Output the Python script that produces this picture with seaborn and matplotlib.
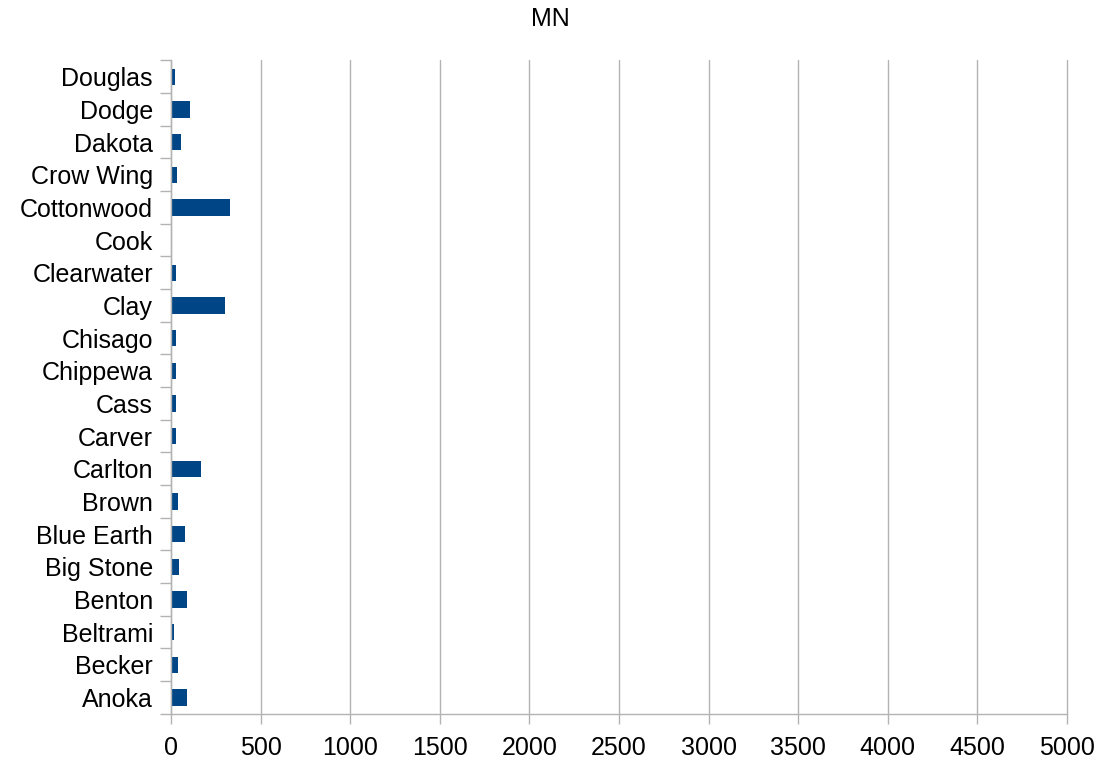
import numpy as np
import pandas as pd
import matplotlib
matplotlib.use("Agg")
import matplotlib.pyplot as plt
import seaborn as sns

# Datos (de arriba hacia abajo, como en la figura)
counties = ["Douglas", "Dodge", "Dakota", "Crow Wing", "Cottonwood", "Cook",
            "Clearwater", "Clay", "Chisago", "Chippewa", "Cass", "Carver",
            "Carlton", "Brown", "Blue Earth", "Big Stone", "Benton",
            "Beltrami", "Becker", "Anoka"]
values = [22, 106, 56, 33, 329, 0,
          28, 301, 28, 28, 28, 28,
          167, 39, 78, 45, 89,
          17, 39, 89]
x_ticks = [0, 500, 1000, 1500, 2000, 2500, 3000, 3500, 4000, 4500, 5000]

df = pd.DataFrame({"county": counties, "value": values})

sns.set_style("white")
plt.rcParams["font.family"] = ["Liberation Sans", "DejaVu Sans"]
plt.rcParams["text.color"] = "black"

fig, ax = plt.subplots(figsize=(11, 7.65), dpi=100)
fig.subplots_adjust(left=0.1555, right=0.97, top=0.921, bottom=0.067)

sns.barplot(data=df, x="value", y="county", order=counties, orient="h",
            color="#004586", width=0.5, saturation=1, linewidth=0, ax=ax)

ax.set_xlim(0, 5000)
ax.set_ylim(len(counties) - 0.5, -0.5)
ax.set_xticks(x_ticks)
ax.set_xticklabels([str(t) for t in x_ticks])
ax.xaxis.grid(True, color="#b3b3b3", linewidth=1)
for gl in ax.get_xgridlines():
    gl.set_clip_on(False)
ax.set_axisbelow(True)

# marcas en los límites entre categorías
ax.set_yticks(np.arange(len(counties) + 1) - 0.5, minor=True)
ax.tick_params(axis="y", which="minor", left=True, length=8, color="#b3b3b3", width=1)
ax.tick_params(axis="y", which="major", left=True, length=0, pad=13, labelsize=18,
               labelcolor="black")
ax.tick_params(axis="x", which="major", bottom=True, length=7, color="#b3b3b3", width=1,
               labelsize=18, pad=9, labelcolor="black")

for side in ["top", "right"]:
    ax.spines[side].set_visible(False)
for side in ["left", "bottom"]:
    ax.spines[side].set_color("#b3b3b3")
    ax.spines[side].set_linewidth(1)

ax.set_xlabel("")
ax.set_ylabel("")
fig.suptitle("MN", fontsize=18, x=0.5, y=0.975, va="center", color="black")

plt.savefig("out.png", dpi=100)
